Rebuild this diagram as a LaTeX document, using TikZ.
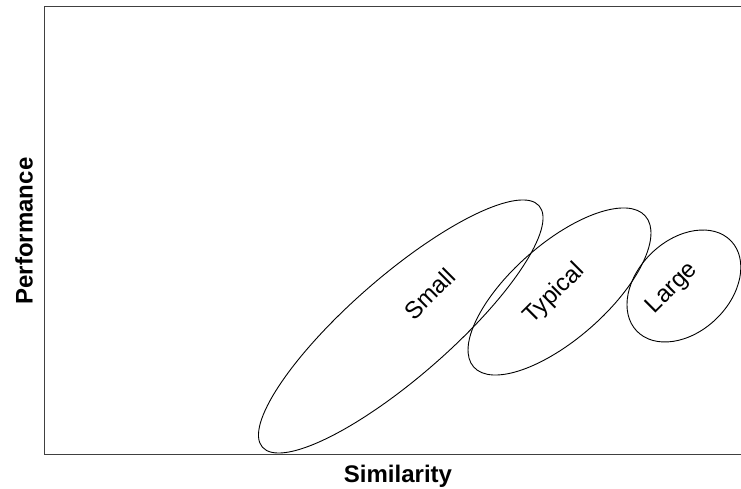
\documentclass[tikz,border=0pt]{standalone}
\usepackage{fontspec}
\setmainfont{Liberation Sans}
\begin{document}
\begin{tikzpicture}[x=1pt,y=1pt,
  axisline/.style={draw=black!75,line width=1.1pt},
  blob/.style={draw=black,line width=0.9pt},
  grouplabel/.style={font=\fontsize{24}{28}\selectfont,rotate=45,inner sep=0pt},
  axislabel/.style={font=\fontsize{24}{28}\selectfont\bfseries,inner sep=0pt}]
\useasboundingbox (0,0) rectangle (741,489);
% axes frame
\coordinate (tr) at (741,482.3);
\coordinate (tl) at (44.6,482.3);
\coordinate (bl) at (44.6,34.7);
\coordinate (br) at (741,34.7);
\draw[axisline] (tr) -- (tl) -- (bl) -- (br);
% ellipses
\draw[blob] (400.75,162.5) ellipse[x radius=183.6,y radius=50.3,rotate=41.1];
\draw[blob] (559.5,197.5) ellipse[x radius=114.3,y radius=47.7,rotate=41.3];
\draw[blob] (683.9,203) ellipse[x radius=65.2,y radius=46.1,rotate=43.6];
% labels
\node[grouplabel] (small) at (429.5,195) {Small};
\node[grouplabel] (typical) at (554.5,195) {Typical};
\node[grouplabel] (large) at (672.5,200.5) {Large};
\node[axislabel,anchor=base] (xlab) at (398,6.3) {Similarity};
\node[axislabel,anchor=base,rotate=90] (ylab) at (32.5,258) {Performance};
\end{tikzpicture}
\end{document}
